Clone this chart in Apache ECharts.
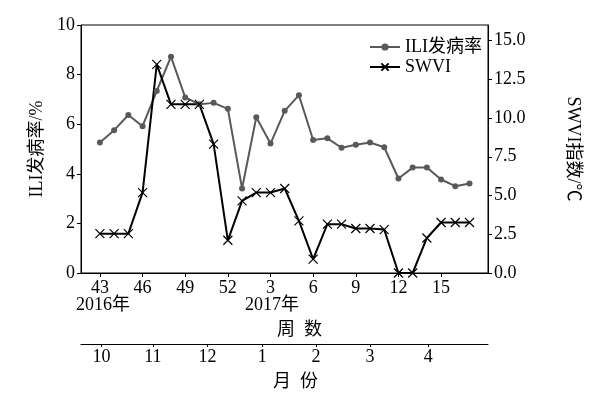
<!DOCTYPE html>
<html>
<head>
<meta charset="utf-8">
<script src="https://cdn.jsdelivr.net/npm/echarts@6/dist/echarts.min.js"></script>
<style>
html,body{margin:0;padding:0;background:#fff;}
#c{width:590px;height:395px;}
</style>
</head>
<body>
<div id="c"></div>
<script>
// Weeks 43-52 (2016) and 1-17 (2017), indexed 0..26
var weeks = [43,44,45,46,47,48,49,50,51,52,1,2,3,4,5,6,7,8,9,10,11,12,13,14,15,16,17];
var iliRate = [5.26,5.76,6.37,5.92,7.34,8.72,7.08,6.80,6.86,6.62,3.41,6.28,5.22,6.54,7.17,5.36,5.43,5.05,5.17,5.26,5.07,3.81,4.25,4.25,3.77,3.50,3.61];
var swvi = [2.54,2.54,2.54,5.19,13.46,10.88,10.88,10.88,8.31,2.11,4.65,5.19,5.19,5.45,3.36,0.90,3.15,3.15,2.87,2.87,2.80,0,0,2.26,3.26,3.26,3.26];
var weekTickIdx = [0,3,6,9,12,15,18,21,24];
var monthLabels = ['10','11','12','1','2','3','4'];
var monthPos = [0.12,3.73,7.57,11.42,15.2,19.0,23.1];
var leftTicks = [0,2,4,6,8,10];
var rightTicks = [0,2.5,5,7.5,10,12.5,15];

var FONT = '"Liberation Serif","Noto Sans CJK SC",serif';
var FS = 18;
var iliData = iliRate.map(function(v,i){return [i,v];});
var swviData = swvi.map(function(v,i){return [i,v];});

var chart = echarts.init(document.getElementById('c'), null, {renderer:'canvas'});
var axisLine = {show:true, onZero:false, lineStyle:{color:'#000', width:1}};
var tickStyle = {show:true, inside:false, length:4, lineStyle:{color:'#000', width:1}};
var option = {
  animation:false,
  backgroundColor:'#fff',
  textStyle:{fontFamily:FONT, color:'#000'},
  grid:{left:81, right:99, top:25, bottom:122, show:true, borderColor:'#000', borderWidth:1, backgroundColor:'transparent'},
  legend:{
    orient:'vertical', right:103, top:33, itemGap:2, itemWidth:30, itemHeight:9,
    textStyle:{fontFamily:FONT, fontSize:FS, color:'#000'},
    data:['ILI发病率','SWVI']
  },
  xAxis:[{
    type:'value', min:-1.33, max:27.3, position:'bottom',
    axisLine:axisLine, splitLine:{show:false},
    axisTick:Object.assign({}, tickStyle, {customValues:weekTickIdx}),
    axisLabel:{customValues:weekTickIdx, margin:6, fontFamily:FONT, fontSize:FS, color:'#000',
      formatter:function(v){return String(weeks[Math.round(v)]);}}
  },{
    type:'value', min:-1.33, max:27.3, position:'bottom', offset:71,
    axisLine:axisLine, splitLine:{show:false},
    axisTick:Object.assign({}, tickStyle, {length:3, customValues:monthPos}),
    axisLabel:{customValues:monthPos, margin:4, fontFamily:FONT, fontSize:FS, color:'#000',
      formatter:function(v){var i=monthPos.indexOf(v);return i>=0?monthLabels[i]:'';}}
  }],
  yAxis:[{
    type:'value', min:0, max:10, position:'left',
    name:'ILI发病率/%', nameLocation:'middle', nameGap:34, nameRotate:90,
    nameTextStyle:{fontFamily:FONT, fontSize:FS, color:'#000'},
    axisLine:axisLine, splitLine:{show:false},
    axisTick:Object.assign({}, tickStyle, {customValues:leftTicks}),
    axisLabel:{customValues:leftTicks, margin:6, fontFamily:FONT, fontSize:FS, color:'#000'}
  },{
    type:'value', min:0, max:16, position:'right',
    name:'SWVI指数/℃', nameLocation:'middle', nameGap:76, nameRotate:-90,
    nameTextStyle:{fontFamily:FONT, fontSize:FS, color:'#000'},
    axisLine:axisLine, splitLine:{show:false},
    axisTick:Object.assign({}, tickStyle, {customValues:rightTicks}),
    axisLabel:{customValues:rightTicks, margin:6, fontFamily:FONT, fontSize:FS, color:'#000',
      formatter:function(v){return v.toFixed(1);}}
  }],
  graphic:[
    {type:'text', left:76, top:296, style:{text:'2016年', font:FS+'px '+FONT, fill:'#000'}},
    {type:'text', left:245, top:296, style:{text:'2017年', font:FS+'px '+FONT, fill:'#000'}},
    {type:'text', left:277, top:321, style:{text:'周  数', font:FS+'px '+FONT, fill:'#000'}},
    {type:'text', left:273, top:373, style:{text:'月  份', font:FS+'px '+FONT, fill:'#000'}}
  ],
  series:[{
    name:'ILI发病率', type:'line', xAxisIndex:0, yAxisIndex:0, data:iliData,
    symbol:'circle', symbolSize:6,
    lineStyle:{color:'#595959', width:2}, itemStyle:{color:'#595959'}
  },{
    name:'SWVI', type:'line', xAxisIndex:0, yAxisIndex:1, data:swviData,
    symbol:'path://M0,0L10,10M10,0L0,10', symbolSize:9,
    lineStyle:{color:'#000', width:2},
    itemStyle:{color:'#000', borderColor:'#000', borderWidth:1.2}
  }]
};
chart.setOption(option);
</script>
</body>
</html>
